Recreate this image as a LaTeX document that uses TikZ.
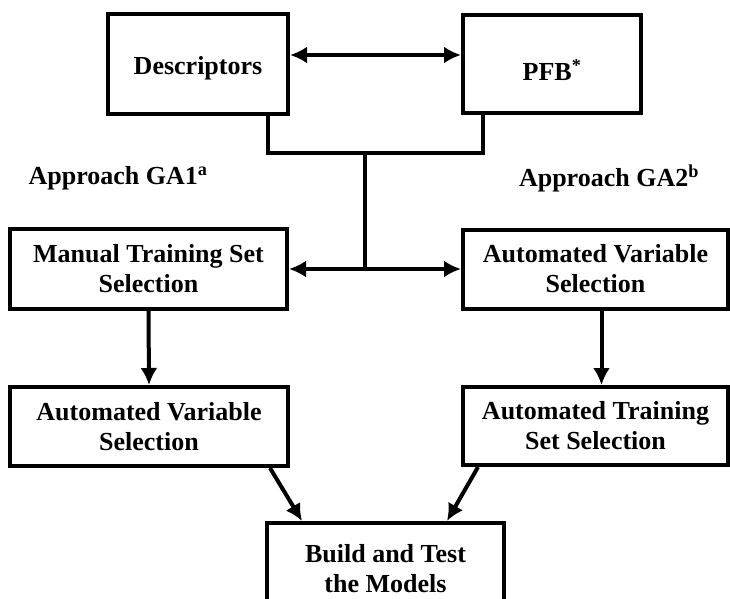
\documentclass[tikz,border=0pt]{standalone}
\usepackage{fontspec}
\setmainfont{Liberation Serif}
\usetikzlibrary{arrows.meta, calc}

\tikzset{
  stage/.style={draw, rectangle, align=center, inner sep=0pt,
    font=\fontsize{26}{30}\selectfont\bfseries},
  approach/.style={font=\fontsize{26}{30}\selectfont\bfseries}
}

\begin{document}
\begin{tikzpicture}[x=1pt, y=-1pt, line width=4pt, >={Latex[length=17pt,width=17pt]}]
\useasboundingbox (0,0) rectangle (730,598);

% sources
\node[stage, minimum width=180, minimum height=100, text height=26pt] (desc) at (198,64) {Descriptors};
\node[stage, minimum width=178, minimum height=98, text height=34pt] (pfb) at (552,64) {PFB\textsuperscript{*}};
\draw[<->] ([yshift=9pt]desc.east) -- ([yshift=9pt]pfb.west);

% the two approaches
\node[approach] (ga1) at (118,178) {Approach GA1\textsuperscript{a}};
\node[approach] (ga2) at (609,178) {Approach GA2\textsuperscript{b}};

\node[stage, minimum width=277, minimum height=80] (manual) at (148.5,269) {Manual Training Set\\Selection};
\node[stage, minimum width=265, minimum height=79] (varsel) at (595.5,269) {Automated Variable\\Selection};
\node[stage, minimum width=278, minimum height=79] (varsell) at (149,426.5) {Automated Variable\\Selection};
\node[stage, minimum width=265, minimum height=78] (trainsel) at (595.5,426) {Automated Training\\Set Selection};
\node[stage, minimum width=237, minimum height=92] (build) at (385.5,569) {Build and Test\\the Models};

% merge of the sources and split to the approaches
\coordinate (jl) at (268,153);
\coordinate (jr) at (483,153);
\coordinate (split) at (365,153);
\coordinate (fork) at (365,269);
\draw (desc.south -| jl) -- (jl) -- (jr) -- (pfb.south -| jr);
\draw (split) -- (fork);
\draw[->] (fork) -- (manual.east);
\draw[->] (fork) -- (varsel.west);

\draw[->] (manual.south) -- (varsell.north);
\draw[->] ([xshift=6pt]varsel.south) -- ([xshift=6pt]trainsel.north);
\draw[->] ([xshift=-20pt]varsell.south east) -- ([xshift=-83.5pt]build.north);
\draw[->] ([xshift=17pt]trainsel.south west) -- ([xshift=61.5pt]build.north);

\end{tikzpicture}
\end{document}
